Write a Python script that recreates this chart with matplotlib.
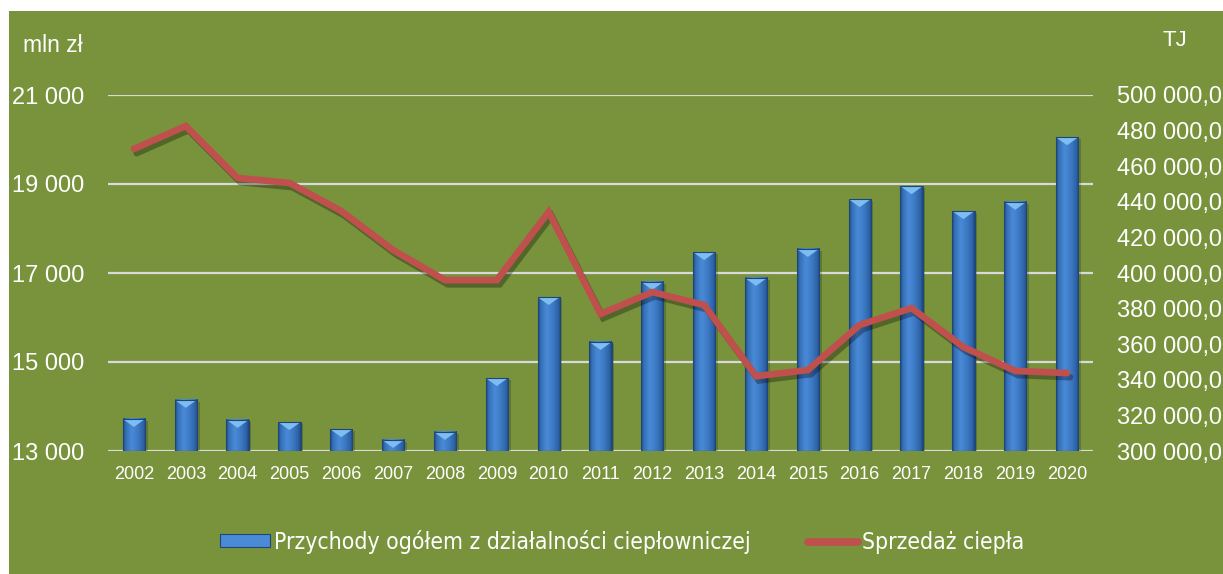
import numpy as np
import matplotlib
matplotlib.use('Agg')
import matplotlib.pyplot as plt
import matplotlib.patheffects as pe
from matplotlib.colors import LinearSegmentedColormap
from matplotlib.patches import Rectangle, Polygon
from matplotlib.lines import Line2D

# Dane
years = [str(y) for y in range(2002, 2021)]
przychody = [13720, 14150, 13700, 13650, 13490, 13250, 13430, 14640, 16460, 15450,
             16800, 17470, 16890, 17540, 18660, 18950, 18390, 18600, 20050]
sprzedaz = [469700, 482600, 453400, 450600, 434800, 412900, 396000, 396000, 434300,
            377000, 389300, 382000, 342000, 345500, 370800, 380300, 358400, 345000, 343800]
left_ticks = [13000, 15000, 17000, 19000, 21000]
right_ticks = list(range(300000, 500001, 20000))

GREEN = '#78933C'
WHITE = 'white'
FONT = ['Liberation Sans', 'DejaVu Sans']

W, H = 1223, 574
fig = plt.figure(figsize=(W / 100, H / 100), dpi=100, facecolor='white')
fig.patches.append(Rectangle((9 / W, 0), 1 - 9 / W, 1 - 11 / H,
                             transform=fig.transFigure, facecolor=GREEN,
                             edgecolor='none', zorder=-10))

ax = fig.add_axes([108 / W, (H - 451) / H, (1093 - 108) / W, (451 - 95) / H])
ax.patch.set_visible(False)
x = np.arange(len(years))

# Siatka
for t in left_ticks:
    ax.axhline(t, color='#D9D9D9', lw=1.6, zorder=1)

# Słupki z efektem "bevel"
bw = 0.43
cmap = LinearSegmentedColormap.from_list('bevel', [
    (0.0, '#1E4A82'), (0.12, '#3470B8'), (0.38, '#4A8AD6'),
    (0.65, '#3D7AC4'), (0.9, '#2C62A6'), (1.0, '#1C457A')])
grad = np.linspace(0, 1, 64).reshape(1, -1)
cap_h = 8 * 8000 / 356
for xi, v in zip(x, przychody):
    x0, x1 = xi - bw / 2, xi + bw / 2
    ax.add_patch(Rectangle((x0 + 0.05, 13000), bw, v - 13000 - 40,
                           facecolor='black', alpha=0.18, edgecolor='none', zorder=1.5))
    ax.imshow(grad, cmap=cmap, extent=(x0, x1, 13000, v), aspect='auto',
              interpolation='bicubic', zorder=2)
    ax.add_patch(Polygon([(x0, v), (x1, v), (xi, v - cap_h)], closed=True,
                         facecolor='#7DBDF2', edgecolor='none', zorder=3))
    ax.add_patch(Rectangle((x0, 13000), bw, v - 13000, facecolor='none',
                           edgecolor='#1F4677', lw=0.8, zorder=3))
ax.set_xlim(-0.5, len(years) - 0.5)
ax.set_ylim(13000, 21000)

ax.set_xticks(x)
ax.set_xticklabels(years, color=WHITE, fontsize=13, family=FONT)
ax.set_yticks(left_ticks)
ax.set_yticklabels([f'{t:,}'.replace(',', ' ') for t in left_ticks],
                   color=WHITE, fontsize=17, family=FONT)
ax.tick_params(axis='x', length=0, pad=11)
ax.tick_params(axis='y', length=0, pad=17)
for s in ax.spines.values():
    s.set_visible(False)

# Linia na osi prawej
ax2 = ax.twinx()
ax2.set_ylim(300000, 500000)
ax2.plot(x, sprzedaz, color='#C0504D', lw=4.8, solid_capstyle='round',
         solid_joinstyle='miter', zorder=4,
         path_effects=[pe.SimpleLineShadow(offset=(2, -3), alpha=0.3), pe.Normal()])
ax2.set_yticks(right_ticks)
ax2.set_yticklabels([f'{t:,}'.replace(',', ' ') + ',0' for t in right_ticks],
                    color=WHITE, fontsize=17, family=FONT)
ax2.tick_params(axis='y', length=0, pad=17)
for s in ax2.spines.values():
    s.set_visible(False)

# Jednostki
fig.text(23 / W, 1 - 46 / H, 'mln zł', color=WHITE, fontsize=16.5, family=FONT,
         ha='left', va='center')
fig.text(1175 / W, 1 - 41 / H, 'TJ', color=WHITE, fontsize=16, family=FONT,
         ha='center', va='center')

# Legenda
h_bar = Rectangle((0, 0), 1, 1, facecolor='#4A8AD6', edgecolor='#1F4677', lw=0.8)
h_line = Line2D([], [], color='#C0504D', lw=5.5, solid_capstyle='round')
leg = fig.legend([h_bar, h_line],
                 ['Przychody ogółem z działalności ciepłowniczej', 'Sprzedaż ciepła'],
                 loc='center', bbox_to_anchor=(622 / W, 1 - 542 / H), ncol=2,
                 frameon=False, handlelength=2.2, handleheight=0.5,
                 handletextpad=0.17, columnspacing=2.5,
                 prop={'family': 'DejaVu Sans', 'stretch': 'condensed', 'size': 16.5})
for t in leg.get_texts():
    t.set_color(WHITE)

fig.savefig('out.png', dpi=100, facecolor='white')
